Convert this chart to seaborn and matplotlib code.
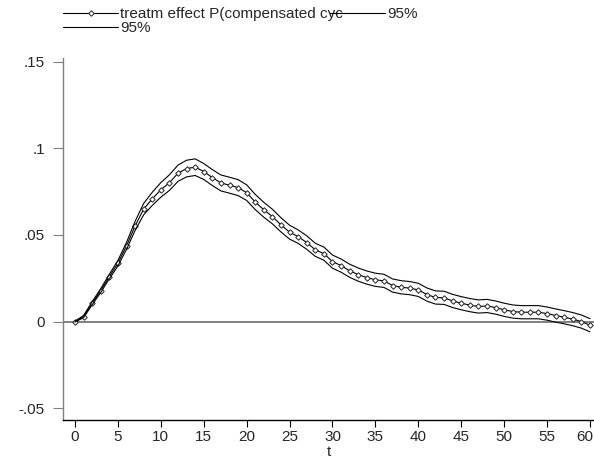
import numpy as np
import pandas as pd
import matplotlib
matplotlib.use("Agg")
import matplotlib.pyplot as plt
import matplotlib.transforms as mtransforms
import seaborn as sns

# time periods
t = list(range(61))

# point estimate of the treatment effect
effect = [0.0000, 0.0029, 0.0106, 0.0179, 0.0260, 0.0337, 0.0437, 0.0552, 0.0649, 0.0708,
          0.0760, 0.0802, 0.0856, 0.0883, 0.0891, 0.0866, 0.0831, 0.0800, 0.0787, 0.0773,
          0.0744, 0.0690, 0.0645, 0.0606, 0.0558, 0.0516, 0.0490, 0.0456, 0.0414, 0.0392,
          0.0346, 0.0323, 0.0293, 0.0271, 0.0254, 0.0241, 0.0235, 0.0208, 0.0198, 0.0193,
          0.0183, 0.0156, 0.0139, 0.0137, 0.0119, 0.0106, 0.0095, 0.0087, 0.0090, 0.0081,
          0.0068, 0.0058, 0.0054, 0.0054, 0.0054, 0.0046, 0.0035, 0.0025, 0.0014, 0.0000,
          -0.0021]

# upper 95% bound
upper = [0.0003, 0.0035, 0.0115, 0.0190, 0.0273, 0.0353, 0.0457, 0.0578, 0.0682, 0.0746,
         0.0802, 0.0847, 0.0903, 0.0931, 0.0939, 0.0912, 0.0877, 0.0846, 0.0833, 0.0819,
         0.0789, 0.0734, 0.0688, 0.0648, 0.0599, 0.0556, 0.0529, 0.0495, 0.0452, 0.0430,
         0.0384, 0.0361, 0.0331, 0.0309, 0.0292, 0.0279, 0.0273, 0.0246, 0.0236, 0.0231,
         0.0221, 0.0194, 0.0177, 0.0175, 0.0157, 0.0144, 0.0133, 0.0125, 0.0128, 0.0119,
         0.0106, 0.0096, 0.0092, 0.0092, 0.0092, 0.0084, 0.0073, 0.0063, 0.0052, 0.0038,
         0.0017]

# lower 95% bound
lower = [-0.0003, 0.0023, 0.0097, 0.0168, 0.0247, 0.0321, 0.0417, 0.0526, 0.0616, 0.0670,
         0.0718, 0.0757, 0.0809, 0.0835, 0.0843, 0.0820, 0.0785, 0.0754, 0.0741, 0.0727,
         0.0699, 0.0646, 0.0602, 0.0564, 0.0517, 0.0476, 0.0451, 0.0417, 0.0376, 0.0354,
         0.0308, 0.0285, 0.0255, 0.0233, 0.0216, 0.0203, 0.0197, 0.0170, 0.0160, 0.0155,
         0.0145, 0.0118, 0.0101, 0.0099, 0.0081, 0.0068, 0.0057, 0.0049, 0.0052, 0.0043,
         0.0030, 0.0020, 0.0016, 0.0016, 0.0016, 0.0008, -0.0003, -0.0013, -0.0024, -0.0038,
         -0.0059]

xticks = list(range(0, 61, 5))
yticks = [-0.05, 0, 0.05, 0.1, 0.15]
ytick_labels = ["-.05", "0", ".05", ".1", ".15"]

df = pd.DataFrame({"t": t, "effect": effect, "upper": upper, "lower": lower})

sns.set_style("white")
plt.rcParams["font.family"] = ["Liberation Sans", "DejaVu Sans"]
fs = 11

fig = plt.figure(figsize=(5.94, 4.62), dpi=100)
ax = fig.add_axes([63 / 594, 42 / 462, 531 / 594, 362 / 462])

ax.axhline(0, color="#808080", lw=1.4, zorder=1)
sns.lineplot(data=df, x="t", y="effect", ax=ax, color="black", lw=0.8,
             marker="D", markersize=2.8, markerfacecolor="white",
             markeredgecolor="#222222", markeredgewidth=0.7,
             label="treatm effect P(compensated cyc")
sns.lineplot(data=df, x="t", y="upper", ax=ax, color="black", lw=0.8, label="95%")
sns.lineplot(data=df, x="t", y="lower", ax=ax, color="black", lw=0.8, label="95%")

ax.set_xlim(-1.4, 60.47)
ax.set_ylim(-0.0568, 0.1521)
ax.set_xticks(xticks)
ax.set_xticklabels([str(v) for v in xticks])
ax.set_yticks(yticks)
ax.set_yticklabels(ytick_labels)
ax.set_xlabel("t", fontsize=fs, labelpad=1)
ax.set_ylabel("")

for side in ["top", "right"]:
    ax.spines[side].set_visible(False)
ax.spines["left"].set_color("#808080")
ax.spines["bottom"].set_color("black")
ax.spines["left"].set_linewidth(1.0)
ax.spines["bottom"].set_linewidth(1.0)

ax.tick_params(axis="y", direction="out", length=7, width=0.8, color="#808080",
               labelsize=fs, pad=6, left=True)
ax.tick_params(axis="x", direction="out", length=5, width=0.8, color="black",
               labelsize=fs, pad=2, bottom=True)

# nudge the last x label so it stays inside the figure
last = ax.get_xticklabels()[-1]
last.set_transform(last.get_transform() + mtransforms.ScaledTranslation(-5 / 100, 0, fig.dpi_scale_trans))

handles, labels = ax.get_legend_handles_labels()
ax.get_legend().remove()
fig.legend(handles, labels, loc="upper left", bbox_to_anchor=(63 / 594, 1 - 7 / 462),
           ncol=2, frameon=False, fontsize=fs, handlelength=3.6, handletextpad=0.12,
           columnspacing=-0.8, labelspacing=0.0, borderpad=0, borderaxespad=0)

fig.savefig("out.png", dpi=100)
